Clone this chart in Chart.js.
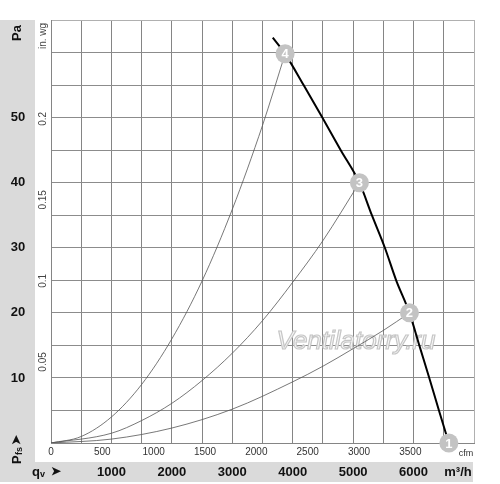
<!DOCTYPE html>
<html>
<head>
<meta charset="utf-8">
<script src="https://cdn.jsdelivr.net/npm/chart.js@4"></script>
<style>
  html, body { margin: 0; padding: 0; background: #fff; }
  #wrap { width: 500px; height: 484px; }
</style>
</head>
<body>
<div id="wrap"><canvas id="chart" width="500" height="484"></canvas></div>
<script>
// fan curve (m3/h, Pa)
const fanFlow = [3670, 3874, 4180, 4490, 4795, 5104, 5310, 5525, 5712, 5932, 6095, 6260, 6420, 6584];
const fanPa = [62.3, 59.8, 55, 50, 45, 40, 35, 30, 25, 20, 15, 10, 5, 0];

// system curves through the numbered points
const sys4Flow = [0, 500, 1000, 1500, 2000, 2500, 3000, 3500, 3874];
const sys4Pa = [0, 1, 4, 9, 16, 24.9, 35.9, 48.8, 59.8];
const sys3Flow = [0, 1000, 1500, 2000, 2500, 3000, 3500, 4000, 4500, 5104];
const sys3Pa = [0, 1.5, 3.45, 6.1, 9.6, 13.8, 18.8, 24.7, 31.1, 40];
const sys2Flow = [0, 1000, 2000, 3000, 4000, 4500, 5000, 5500, 5932];
const sys2Pa = [0, 0.6, 2.3, 5.2, 9.4, 11.8, 14.5, 17.3, 20];

// numbered operating points
const pointNames = ['1', '2', '3', '4'];
const pointFlow = [6584, 5932, 5104, 3874];
const pointPa = [0, 20, 40, 59.8];

// tick labels
const paTicks = [10, 20, 30, 40, 50];
const inwgTicks = [0.05, 0.1, 0.15, 0.2];
const cfmTicks = [0, 500, 1000, 1500, 2000, 2500, 3000, 3500];
const m3hTicks = [1000, 2000, 3000, 4000, 5000, 6000];

const PA_PER_INWG = 249.089;
const M3H_PER_CFM = 1.699;
const FONT = '"Liberation Sans", Arial, sans-serif';

function pts(xs, ys) {
  return xs.map((x, i) => ({ x: x, y: ys[i] }));
}

const decor = {
  id: 'decor',
  beforeDraw(chart) {
    const ctx = chart.ctx;
    ctx.save();
    ctx.fillStyle = '#dadada';
    ctx.fillRect(0, 20, 35, 462);
    ctx.fillRect(0, 462, 473, 20);
    ctx.restore();
  },
  beforeDatasetsDraw(chart) {
    // watermark under the curves
    const ctx = chart.ctx;
    ctx.save();
    ctx.font = 'italic 26px ' + FONT;
    ctx.textAlign = 'center';
    ctx.textBaseline = 'middle';
    ctx.lineWidth = 1.2;
    ctx.strokeStyle = '#c6c6c6';
    ctx.fillStyle = '#f7f7f7';
    ctx.fillText('Ventilatorry.ru', 356, 342);
    ctx.strokeText('Ventilatorry.ru', 356, 342);
    ctx.restore();
  },
  afterDraw(chart) {
    const ctx = chart.ctx;
    const xs = chart.scales.x, ys = chart.scales.y;
    ctx.save();

    // Pa labels in the grey band
    ctx.fillStyle = '#111';
    ctx.font = 'bold 13px ' + FONT;
    ctx.textAlign = 'center';
    ctx.textBaseline = 'middle';
    paTicks.forEach(v => ctx.fillText(String(v), 18, ys.getPixelForValue(v)));

    // rotated texts
    function rot(text, x, y, font, color) {
      ctx.save();
      ctx.translate(x, y);
      ctx.rotate(-Math.PI / 2);
      ctx.font = font;
      ctx.fillStyle = color;
      ctx.textAlign = 'center';
      ctx.textBaseline = 'middle';
      ctx.fillText(text, 0, 0);
      ctx.restore();
    }
    rot('Pa', 17, 33, 'bold 13px ' + FONT, '#111');
    rot('in. wg', 43, 36, '10px ' + FONT, '#444');
    inwgTicks.forEach(v => rot(String(v), 43, ys.getPixelForValue(v * PA_PER_INWG), '10px ' + FONT, '#444'));

    // P fs arrow (rotated)
    ctx.save();
    ctx.translate(17, 452);
    ctx.rotate(-Math.PI / 2);
    ctx.fillStyle = '#111';
    ctx.textBaseline = 'middle';
    ctx.textAlign = 'left';
    ctx.font = 'bold 13px ' + FONT;
    ctx.fillText('P', -12, 0);
    ctx.font = 'bold 9px ' + FONT;
    ctx.fillText('fs', -3, 3);
    ctx.font = 'bold 12px ' + FONT;
    ctx.fillText('\u27A4', 7, 0);
    ctx.restore();

    // cfm labels under the plot
    ctx.fillStyle = '#333';
    ctx.font = '10px ' + FONT;
    ctx.textAlign = 'center';
    ctx.textBaseline = 'middle';
    cfmTicks.forEach(v => ctx.fillText(String(v), xs.getPixelForValue(v * M3H_PER_CFM), 452));
    ctx.font = '9px ' + FONT;
    ctx.fillText('cfm', 466, 454);

    // m3/h labels in the bottom band
    ctx.fillStyle = '#111';
    ctx.font = 'bold 13px ' + FONT;
    m3hTicks.forEach(v => ctx.fillText(String(v), xs.getPixelForValue(v), 472));
    ctx.fillText('m\u00B3/h', 458, 472);
    ctx.textAlign = 'left';
    ctx.fillText('q', 32, 472);
    ctx.font = 'bold 9px ' + FONT;
    ctx.fillText('v', 40, 475);
    ctx.font = 'bold 12px ' + FONT;
    ctx.fillText('\u27A4', 51, 472);

    // numbers inside the point markers
    const meta = chart.getDatasetMeta(4);
    ctx.fillStyle = '#fff';
    ctx.font = 'bold 13px ' + FONT;
    ctx.textAlign = 'center';
    meta.data.forEach((el, i) => ctx.fillText(pointNames[i], el.x, el.y + 1));
    ctx.restore();
  }
};

const thin = { borderColor: '#555', borderWidth: 0.8, pointRadius: 0, fill: false, cubicInterpolationMode: 'monotone', order: 3 };

new Chart(document.getElementById('chart'), {
  type: 'line',
  data: {
    datasets: [
      Object.assign({ data: pts(sys4Flow, sys4Pa) }, thin),
      Object.assign({ data: pts(sys3Flow, sys3Pa) }, thin),
      Object.assign({ data: pts(sys2Flow, sys2Pa) }, thin),
      {
        data: pts(fanFlow, fanPa),
        borderColor: '#000',
        borderWidth: 2,
        pointRadius: 0,
        fill: false,
        cubicInterpolationMode: 'monotone',
        order: 2
      },
      {
        data: pts(pointFlow, pointPa),
        showLine: false,
        pointRadius: 9.5,
        pointBackgroundColor: '#c3c3c3',
        pointBorderWidth: 0,
        clip: false,
        order: 1
      }
    ]
  },
  options: {
    responsive: false,
    animation: false,
    layout: { padding: { left: 51, right: 26, top: 20, bottom: 41 } },
    plugins: { legend: { display: false }, tooltip: { enabled: false } },
    scales: {
      x: {
        type: 'linear',
        min: 0,
        max: 7000,
        ticks: { display: false, stepSize: 500 },
        grid: {
          drawTicks: false,
          color: ctx => ctx.tick && ctx.tick.value === 7000 ? '#b0b0b0' : '#858585',
          lineWidth: 1
        },
        border: { display: true, color: '#858585' }
      },
      y: {
        type: 'linear',
        min: 0,
        max: 65,
        ticks: { display: false, stepSize: 5 },
        grid: {
          drawTicks: false,
          color: ctx => ctx.tick && ctx.tick.value === 65 ? '#b0b0b0' : '#8c8c8c',
          lineWidth: 1
        },
        border: { display: true, color: '#858585' }
      }
    }
  },
  plugins: [decor]
});
</script>
</body>
</html>
